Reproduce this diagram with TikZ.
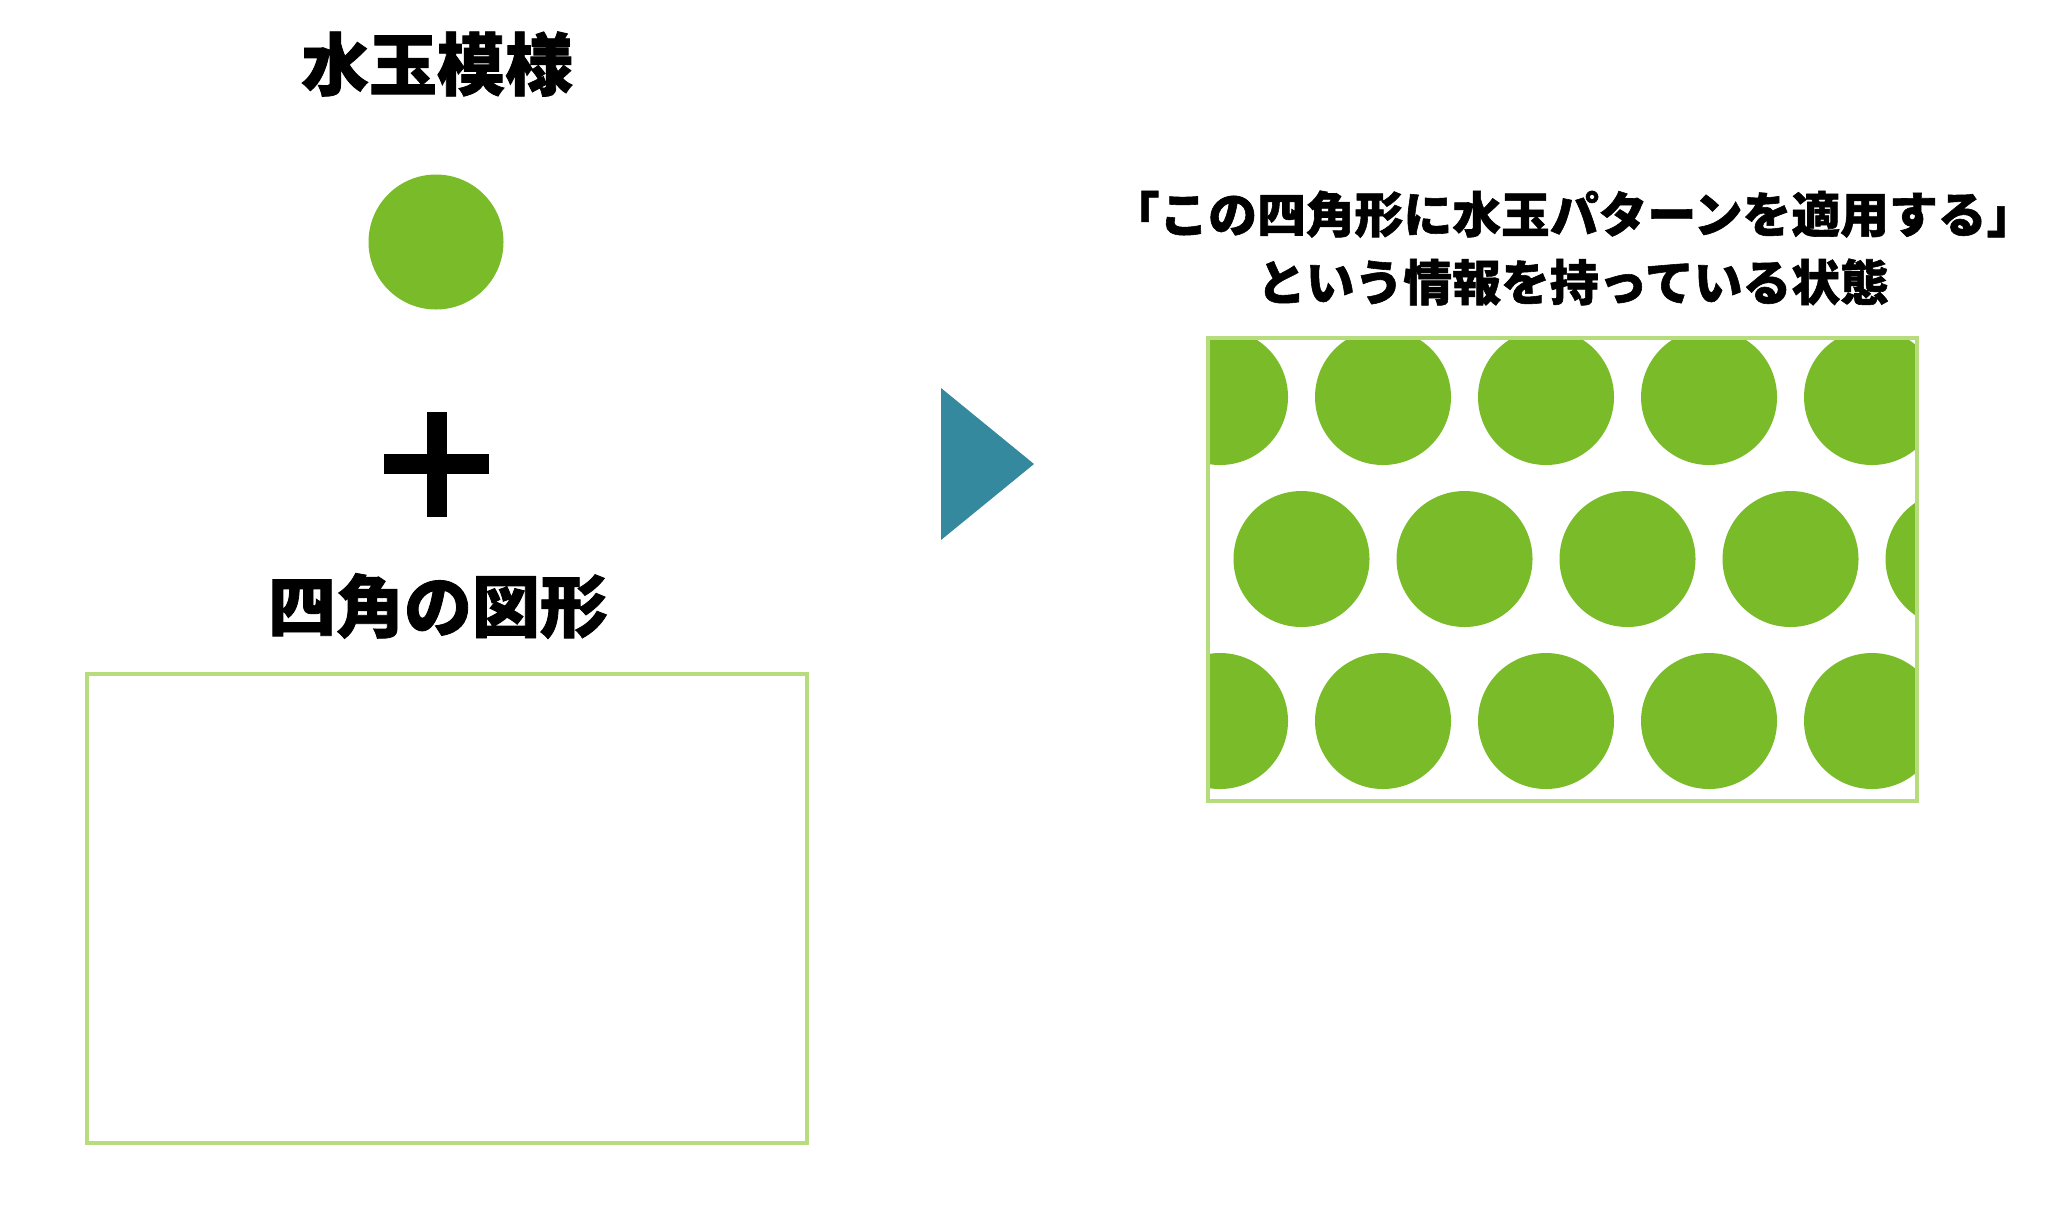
\documentclass[tikz,border=0pt]{standalone}
\usepackage{fontspec}
\newfontfamily\jp{Noto Sans CJK JP}[BoldFeatures={FakeBold=1.2}]
\definecolor{dotgreen}{HTML}{7ABB2A}
\definecolor{framegreen}{HTML}{B6DC7E}
\definecolor{arrowblue}{HTML}{35899F}
\tikzset{
  heading/.style={font=\jp\bfseries\fontsize{34}{40}\selectfont, inner sep=0pt},
  caption/.style={font=\jp\bfseries\fontsize{24.4}{34}\selectfont, align=center, inner sep=0pt},
  frame/.style={draw=framegreen, line width=2pt},
  dot/.style={fill=dotgreen}
}
\begin{document}
\begin{tikzpicture}[x=0.5pt,y=-0.5pt]
  \useasboundingbox (0,0) rectangle (2048,1206);
  % left column
  \node[heading] (pattern) at (437,64) {水玉模様};
  \node[dot, circle, minimum size=67.5pt, inner sep=0pt] (drop) at (436,242) {};
  \fill (427,412) rectangle (447,517);
  \fill (384,454) rectangle (489,474);
  \node[heading] (shape) at (438,606) {四角の図形};
  \node[frame, minimum width=360pt, minimum height=234.5pt] (square) at (447,908.5) {};
  % arrow
  \fill[arrowblue] (941,388) -- (1034,464) -- (941,540) -- cycle;
  % result
  \node[caption] (result) at (1573,248) {「この四角形に水玉パターンを適用する」\\という情報を持っている状態};
  \begin{scope}
    \clip (1208,338) rectangle (1917,801);
    \foreach \row in {0,1,2}
      \foreach \col in {0,...,5}
        \fill[dot] ({1220+\col*163-mod(\row,2)*81.5+mod(\row,2)*163},{397+\row*162}) circle (68);
  \end{scope}
  \node[frame, minimum width=354.5pt, minimum height=231.5pt] (dotted) at (1562.5,569.5) {};
\end{tikzpicture}
\end{document}
